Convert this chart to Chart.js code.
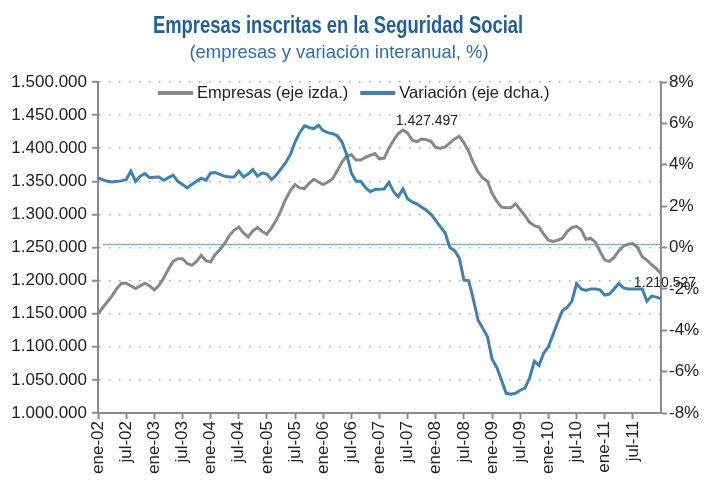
<!DOCTYPE html>
<html lang="es">
<head>
<meta charset="utf-8">
<title>Empresas inscritas en la Seguridad Social</title>
<script src="https://cdn.jsdelivr.net/npm/chart.js@4.4.1/dist/chart.umd.min.js"></script>
<style>
  html, body { margin: 0; padding: 0; background: #fff; }
  #contenedor { width: 704px; height: 491px; }
</style>
</head>
<body>
<div id="contenedor"><canvas id="grafico" width="704" height="491"></canvas></div>
<script>
// meses del eje horizontal: de ene-02 a ene-12, un dato por mes
var nombresMes = ['ene', 'feb', 'mar', 'abr', 'may', 'jun', 'jul', 'ago', 'sep', 'oct', 'nov', 'dic'];
var anios = ['02', '03', '04', '05', '06', '07', '08', '09', '10', '11', '12'];
var meses = [];
for (var a = 0; a < anios.length; a++) {
  for (var m = 0; m < nombresMes.length; m++) {
    if (anios[a] == '12' && m > 0) break;
    meses.push(nombresMes[m] + '-' + anios[a]);
  }
}

// empresas inscritas (eje izquierdo)
var empresas = [
  1150000, 1159000, 1168000, 1177000, 1188000, 1196000, 1196000, 1192000, 1188000, 1192000,
  1196000, 1192000, 1186000, 1193000, 1204000, 1217000, 1229000, 1233000, 1233000, 1226000,
  1223000, 1229000, 1238000, 1230000, 1228000, 1240000, 1247000, 1256000, 1268000, 1276000,
  1281000, 1272000, 1266000, 1275000, 1280000, 1274000, 1270000, 1280000, 1291000, 1306000,
  1323000, 1336000, 1345000, 1340000, 1339000, 1347000, 1353000, 1349000, 1345000, 1349000,
  1354000, 1366000, 1379000, 1388000, 1390000, 1382000, 1382000, 1386000, 1389000, 1392000,
  1384000, 1385000, 1400000, 1412000, 1422000, 1427497, 1423000, 1412000, 1410000, 1414000,
  1413000, 1410000, 1401000, 1400000, 1402000, 1408000, 1414000, 1418000, 1408000, 1395000,
  1378000, 1364000, 1355000, 1350000, 1332000, 1320000, 1311000, 1310000, 1310000, 1316000,
  1307000, 1298000, 1288000, 1283000, 1281000, 1270000, 1261000, 1259000, 1261000, 1264000,
  1274000, 1280000, 1282000, 1277000, 1262000, 1264000, 1258000, 1244000, 1231000, 1229000,
  1235000, 1245000, 1252000, 1255000, 1256000, 1250000, 1236000, 1231000, 1224000, 1218000,
  1210527
];

// variacion interanual en % (eje derecho)
var variacion = [
  3.37, 3.28, 3.2, 3.17, 3.2, 3.22, 3.28, 3.69, 3.2, 3.45,
  3.57, 3.37, 3.4, 3.41, 3.25, 3.38, 3.5, 3.2, 3.05, 2.88,
  3.05, 3.2, 3.35, 3.25, 3.6, 3.62, 3.53, 3.44, 3.41, 3.41,
  3.69, 3.41, 3.55, 3.77, 3.45, 3.6, 3.55, 3.28, 3.5, 3.8,
  4.1, 4.5, 5.1, 5.55, 5.88, 5.8, 5.75, 5.91, 5.65, 5.55,
  5.5, 5.4, 5.1, 4.5, 3.6, 3.2, 3.2, 2.9, 2.7, 2.8,
  2.82, 2.83, 3.15, 2.7, 2.45, 2.83, 2.35, 2.2, 2.1, 1.95,
  1.8, 1.6, 1.3, 1.0, 0.7, 0.0, -0.15, -0.5, -1.58, -1.6,
  -2.5, -3.5, -3.9, -4.3, -5.4, -5.8, -6.4, -7.05, -7.09, -7.05,
  -6.9, -6.8, -6.3, -5.5, -5.7, -5.1, -4.8, -4.2, -3.6, -3.05,
  -2.9, -2.6, -1.74, -2.0, -2.07, -2.0, -2.0, -2.05, -2.3, -2.25,
  -2.0, -1.74, -1.95, -2.0, -2.0, -2.0, -2.0, -2.6, -2.35, -2.4,
  -2.47
];

// linea de referencia del eje derecho
var referencia = [{ x: 'feb-02', y: 0.15 }, { x: 'ene-12', y: 0.15 }];

var colorGris = '#888888';
var colorAzul = '#3a82b8';
var colorEje = '#8c8c8c';
var fuente = '"Liberation Sans", Arial, sans-serif';

// numeros con punto de miles: 1.500.000
function formatoMiles(n) {
  return String(Math.round(n)).replace(/\B(?=(\d{3})+(?!\d))/g, '.');
}

// texto estrechado en horizontal (la fuente original es condensada)
function textoEstrecho(ctx, texto, x, y, escala) {
  ctx.save();
  ctx.translate(x, y);
  ctx.scale(escala, 1);
  ctx.fillText(texto, 0, 0);
  ctx.restore();
}

// titulo, leyenda y etiquetas de valores dibujadas a mano
var textosExtra = {
  id: 'textosExtra',
  afterDraw: function(chart) {
    var ctx = chart.ctx;
    ctx.save();
    ctx.textAlign = 'center';
    ctx.textBaseline = 'alphabetic';
    ctx.fillStyle = '#1f5f9e';
    ctx.font = 'bold 23px ' + fuente;
    textoEstrecho(ctx, 'Empresas inscritas en la Seguridad Social', 338, 33, 0.8);
    ctx.fillStyle = '#2e6eae';
    ctx.font = '19px ' + fuente;
    textoEstrecho(ctx, '(empresas y variación interanual, %)', 339, 58, 0.97);

    // leyenda
    ctx.textAlign = 'left';
    ctx.textBaseline = 'middle';
    ctx.font = '16.5px ' + fuente;
    var x = 158;
    var yLeyenda = 93;
    for (var i = 0; i < 2; i++) {
      var ds = chart.data.datasets[i];
      ctx.fillStyle = ds.borderColor;
      ctx.fillRect(x, yLeyenda - 2, 35, 4);
      x += 39;
      ctx.fillStyle = '#222';
      ctx.fillText(ds.label, x, yLeyenda);
      x += ctx.measureText(ds.label).width + 12;
    }

    // valores maximo y ultimo
    var escX = chart.scales.x;
    var escY = chart.scales.y;
    var iMax = empresas.indexOf(Math.max.apply(null, empresas));
    var iFin = empresas.length - 1;
    ctx.textAlign = 'center';
    ctx.font = '14px ' + fuente;
    ctx.fillStyle = '#222';
    ctx.fillText(formatoMiles(empresas[iMax]), escX.getPixelForValue(iMax) + 24, escY.getPixelForValue(empresas[iMax]) - 9);
    ctx.fillText(formatoMiles(empresas[iFin]), escX.getPixelForValue(iFin) + 4, escY.getPixelForValue(empresas[iFin]) + 10);
    ctx.restore();
  }
};

var ctx = document.getElementById('grafico').getContext('2d');
var grafico = new Chart(ctx, {
  type: 'line',
  data: {
    labels: meses,
    datasets: [
      {
        label: 'Empresas (eje izda.)',
        data: empresas,
        yAxisID: 'y',
        borderColor: colorGris,
        backgroundColor: colorGris,
        borderWidth: 3,
        pointRadius: 0,
        order: 1
      },
      {
        label: 'Variación (eje dcha.)',
        data: variacion,
        yAxisID: 'y1',
        borderColor: colorAzul,
        backgroundColor: colorAzul,
        borderWidth: 3,
        pointRadius: 0,
        order: 0
      },
      {
        label: 'cero',
        data: referencia,
        yAxisID: 'y1',
        borderColor: '#80b4dc',
        borderWidth: 1.5,
        pointRadius: 0,
        order: 2
      }
    ]
  },
  options: {
    responsive: false,
    animation: false,
    layout: { padding: { top: 82, left: 0, right: 0, bottom: 0 } },
    plugins: {
      legend: { display: false },
      title: { display: false },
      tooltip: { enabled: false }
    },
    scales: {
      x: {
        type: 'category',
        offset: false,
        grid: {
          drawOnChartArea: false,
          drawTicks: true,
          tickLength: 6,
          tickColor: colorEje,
          tickWidth: 2
        },
        border: { color: colorEje, width: 2 },
        ticks: {
          autoSkip: false,
          minRotation: 90,
          maxRotation: 90,
          padding: 2,
          color: '#222',
          font: { family: fuente, size: 17 },
          callback: function(valor, indice) {
            if (indice % 6 === 0 && indice < 120) return meses[indice];
            return null;
          }
        },
        afterFit: function(escala) { escala.height = 78; }
      },
      y: {
        position: 'left',
        min: 1000000,
        max: 1500000,
        grid: {
          color: '#a8a8a8',
          lineWidth: 1.5,
          tickLength: 6,
          tickColor: colorEje,
          tickWidth: 2,
          tickBorderDash: []
        },
        border: { color: colorEje, width: 2, dash: [1.5, 8.5] },
        ticks: {
          stepSize: 50000,
          padding: 5,
          color: '#222',
          font: { family: fuente, size: 17 },
          callback: function(valor) { return formatoMiles(valor); }
        },
        afterFit: function(escala) { escala.width = 98; }
      },
      y1: {
        position: 'right',
        min: -8,
        max: 8,
        grid: {
          drawOnChartArea: false,
          tickLength: 6,
          tickColor: colorEje,
          tickWidth: 2
        },
        border: { color: colorEje, width: 2 },
        ticks: {
          stepSize: 2,
          padding: 2,
          color: '#222',
          font: { family: fuente, size: 17 },
          callback: function(valor) { return valor + '%'; }
        },
        afterFit: function(escala) { escala.width = 43; }
      }
    }
  },
  plugins: [textosExtra]
});
</script>
</body>
</html>
